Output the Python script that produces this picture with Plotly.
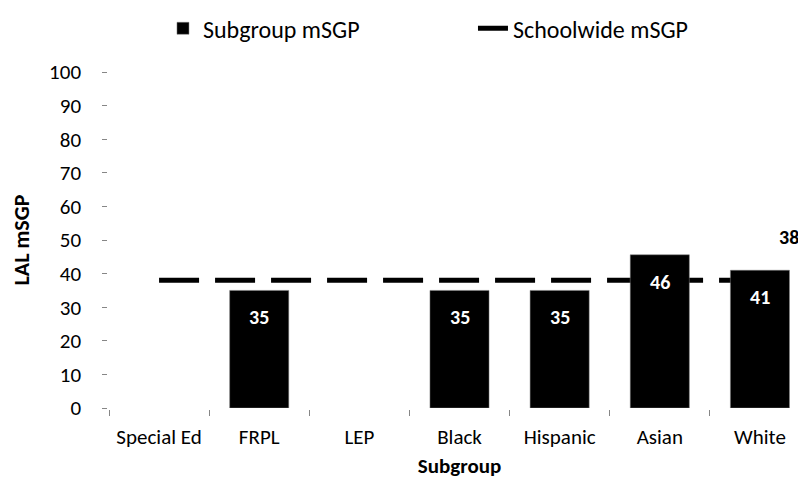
import plotly.graph_objects as go

categories = ["Special Ed", "FRPL", "LEP", "Black", "Hispanic", "Asian", "White"]
subgroup_msgp = [None, 35, None, 35, 35, 45.6, 41.0]
schoolwide_value = 38
schoolwide_msgp = [schoolwide_value] * len(categories)
y_ticks = list(range(0, 101, 10))

FONT = "Carlito, Calibri, Lato, 'Open Sans', sans-serif"
AXIS_COLOR = "#868686"

fig = go.Figure()

fig.add_trace(go.Bar(
    x=categories, y=subgroup_msgp, name="Subgroup mSGP",
    marker=dict(color="black", line=dict(color="#7f7f7f", width=0.5)),
    zorder=1,
))

fig.add_trace(go.Scatter(
    x=categories, y=schoolwide_msgp, name="Schoolwide mSGP",
    mode="lines",
    line=dict(color="black", width=5, dash="40px,16px"),
    zorder=0,
))

# data labels inside the bars
for cat, val in zip(categories, subgroup_msgp):
    if val is None:
        continue
    fig.add_annotation(
        x=cat, y=val, yshift=-27, text=f"<b>{val:.0f}</b>", showarrow=False,
        font=dict(family=FONT, size=20, color="white"),
    )

# data label of the schoolwide line (last point)
fig.add_annotation(
    x=categories[-1], y=schoolwide_msgp[-1], xshift=29, yshift=43,
    text=f"<b>{schoolwide_msgp[-1]}</b>", showarrow=False,
    font=dict(family=FONT, size=20, color="black"),
)

fig.update_layout(
    width=806, height=481,
    margin=dict(l=101, r=4, t=64, b=81, autoexpand=False),
    plot_bgcolor="white", paper_bgcolor="white",
    font=dict(family=FONT, size=21, color="black"),
    bargap=0.41,
    showlegend=True,
    legend=dict(orientation="h", x=0.077, xanchor="left", yref="container",
                y=0.957, yanchor="middle", font=dict(size=24),
                entrywidth=265, entrywidthmode="pixels",
                traceorder="normal"),
    xaxis=dict(
        title=dict(text="<b>Subgroup</b>", standoff=9, font=dict(size=21)),
        showline=True, linecolor=AXIS_COLOR, linewidth=1.5,
        ticks="outside", tickson="boundaries", ticklen=6, tickcolor=AXIS_COLOR,
        ticklabelstandoff=9, showgrid=False,
    ),
    yaxis=dict(
        title=dict(text="<b>LAL mSGP</b>", standoff=16, font=dict(size=22)),
        range=[0, 100], tickvals=y_ticks,
        showline=True, linecolor=AXIS_COLOR, linewidth=1.5,
        ticks="outside", ticklen=5, tickcolor=AXIS_COLOR, showgrid=False,
        ticklabelstandoff=17, zeroline=False,
    ),
)

fig.write_html("out.html")
